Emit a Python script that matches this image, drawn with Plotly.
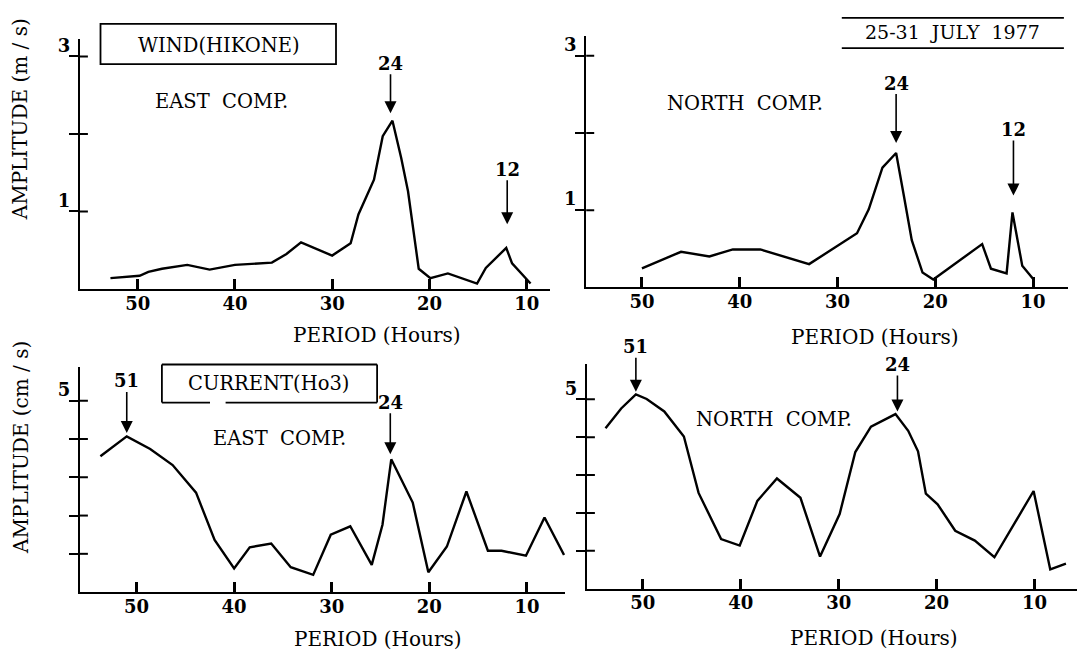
import plotly.graph_objects as go

# ---------------- data (period in hours, amplitude) ----------------
wind_east_period = [52.8, 49.8, 48.9, 47.5, 44.9, 42.6, 40.0, 36.2, 34.7, 33.2, 30.0, 28.1, 27.3,
                    25.7, 24.8, 23.8, 22.9, 22.2, 21.1, 19.9, 18.1, 15.1, 14.2, 12.1, 11.5, 9.6]
wind_east_amp = [0.14, 0.17, 0.22, 0.26, 0.31, 0.25, 0.31, 0.34, 0.45, 0.60, 0.43, 0.59, 0.96,
                 1.41, 1.97, 2.17, 1.69, 1.26, 0.26, 0.14, 0.20, 0.07, 0.27, 0.53, 0.33, 0.07]

wind_north_period = [50.0, 46.0, 43.1, 40.7, 37.9, 32.9, 28.0, 26.8, 25.4, 24.0, 23.2, 22.4,
                     21.3, 20.2, 15.2, 14.3, 12.7, 12.1, 11.1, 10.0]
wind_north_amp = [0.245, 0.46, 0.40, 0.49, 0.49, 0.30, 0.70, 1.01, 1.55, 1.74, 1.18, 0.61,
                  0.19, 0.10, 0.56, 0.24, 0.18, 0.97, 0.28, 0.11]

cur_east_period = [53.7, 51.0, 48.6, 47.6, 46.3, 43.9, 42.0, 40.0, 38.4, 36.2, 34.2, 31.9, 30.1,
                   28.1, 25.9, 24.8, 23.9, 21.7, 20.1, 18.2, 16.2, 14.0, 12.6, 10.1, 8.2, 6.2]
cur_east_amp = [3.55, 4.07, 3.74, 3.55, 3.32, 2.60, 1.36, 0.62, 1.17, 1.27, 0.65, 0.45, 1.50,
                1.72, 0.71, 1.76, 3.47, 2.34, 0.52, 1.19, 2.63, 1.08, 1.08, 0.95, 1.95, 0.97]

cur_north_period = [53.8, 52.2, 50.7, 49.6, 47.8, 45.8, 44.3, 42.0, 40.1, 38.3, 36.3, 33.9, 31.9,
                    29.9, 28.3, 26.7, 24.2, 22.9, 21.9, 21.1, 19.9, 18.1, 16.1, 14.1, 10.1, 8.4, 6.8]
cur_north_amp = [4.24, 4.76, 5.13, 5.01, 4.68, 4.02, 2.53, 1.31, 1.14, 2.32, 2.91, 2.40, 0.85,
                 1.97, 3.61, 4.28, 4.61, 4.17, 3.63, 2.51, 2.23, 1.53, 1.27, 0.83, 2.58, 0.51, 0.66]

period_ticks = [50, 40, 30, 20, 10]
wind_ticks = [1, 2, 3]
wind_ticktext = ["1", "", "3"]
cur_ticks = [1, 2, 3, 4, 5]
cur_ticktext = ["", "", "", "", "5"]

# peak markers: (panel, period, amplitude at arrow tip, label, arrow length px)
peaks = [
    (1, 24, 2.265, "24", -50),
    (1, 12, 0.833, "12", -55),
    (2, 24, 1.87, "24", -60),
    (2, 12, 1.19, "12", -66),
    (3, 51, 4.16, "51", -52),
    (3, 24, 3.60, "24", -52),
    (4, 50.7, 5.20, "51", -45),
    (4, 24, 4.68, "24", -47),
]

FONT = "DejaVu Serif"
W, H = 1077, 653

def px_x(p):
    return p / W

def px_y(p):
    return 1 - p / H

fig = go.Figure()

series = [
    (wind_east_period, wind_east_amp, "x", "y"),
    (wind_north_period, wind_north_amp, "x2", "y2"),
    (cur_east_period, cur_east_amp, "x3", "y3"),
    (cur_north_period, cur_north_amp, "x4", "y4"),
]
for xs, ys, xa, ya in series:
    fig.add_trace(go.Scatter(x=xs, y=ys, xaxis=xa, yaxis=ya, mode="lines",
                             line=dict(color="black", width=2.4), showlegend=False,
                             hoverinfo="skip"))

# panel geometry in pixels: (left, right), (top, bottom), x range, y range
panels = {
    1: dict(xd=(79.9, 550), yd=(35, 286.7), xr=[55.94, 7.6], yr=[0, 3.227],
            tv=wind_ticks, tt=wind_ticktext),
    2: dict(xd=(586.2, 1068), yd=(31.7, 285), xr=[55.7, 6.42], yr=[0, 3.264],
            tv=wind_ticks, tt=wind_ticktext),
    3: dict(xd=(79.9, 565), yd=(365, 591.7), xr=[55.8, 6.1], yr=[0, 5.89],
            tv=cur_ticks, tt=cur_ticktext),
    4: dict(xd=(586.9, 1077), yd=(362, 588.3), xr=[55.7, 5.67], yr=[0, 5.94],
            tv=cur_ticks, tt=cur_ticktext),
}

layout = {}
shapes = []
for i, p in panels.items():
    sx = "" if i == 1 else str(i)
    layout["xaxis" + sx] = dict(
        domain=[px_x(p["xd"][0]), min(1.0, px_x(p["xd"][1]))],
        range=p["xr"], anchor="y" + sx, showline=True, linecolor="black", linewidth=2,
        ticks="inside", ticklen=10, tickwidth=2.5, tickcolor="black",
        tickvals=period_ticks, ticktext=[str(t) for t in period_ticks],
        ticklabelstandoff=-3,
        showgrid=False, zeroline=False,
        tickfont=dict(family=FONT, size=18, color="black", weight="bold"),
    )
    layout["yaxis" + sx] = dict(
        domain=[px_y(p["yd"][1]), px_y(p["yd"][0])],
        range=p["yr"], anchor="x" + sx, showline=True, linecolor="black", linewidth=2,
        ticks="outside", ticklen=9, tickwidth=2, tickcolor="black",
        tickvals=p["tv"], ticktext=p["tt"], showgrid=False, zeroline=False,
        ticklabelshift=-11, ticklabelstandoff=-5,
        tickfont=dict(family=FONT, size=18, color="black", weight="bold"),
    )
    # inner half of the crossing y ticks
    width_px = p["xd"][1] - p["xd"][0]
    for tv in p["tv"]:
        shapes.append(dict(type="line", xref="x" + sx + " domain", yref="y" + sx,
                           x0=0, x1=8 / width_px, y0=tv, y1=tv, layer="above",
                           line=dict(color="black", width=2)))

annotations = []
for panel, per, amp, lab, ay in peaks:
    sx = "" if panel == 1 else str(panel)
    annotations.append(dict(
        x=per, y=amp, xref="x" + sx, yref="y" + sx, text=lab, showarrow=True,
        ax=0, ay=ay, arrowhead=2, arrowsize=1.5, arrowwidth=1.6, arrowcolor="black",
        font=dict(family=FONT, size=18, color="black", weight="bold"), borderpad=0,
    ))

def text_ann(txt, x, y, size=20, angle=0):
    annotations.append(dict(text=txt, x=px_x(x), y=px_y(y), xref="paper", yref="paper",
                            showarrow=False, xanchor="center", yanchor="middle",
                            textangle=angle, font=dict(family=FONT, size=size, color="black")))

text_ann("WIND(HIKONE)", 218.5, 41.5, 19.5)
text_ann("EAST&nbsp; COMP.", 221, 98.3, 19.5)
text_ann("25-31&nbsp; JULY&nbsp; 1977", 952, 28.3, 19)
text_ann("NORTH&nbsp; COMP.", 745.3, 100, 19.5)
text_ann("CURRENT(Ho3)", 268.6, 381.7, 19.5)
text_ann("EAST&nbsp; COMP.", 279.7, 436.7, 19.5)
text_ann("NORTH&nbsp; COMP.", 773.6, 418.3, 19.5)
text_ann("PERIOD (Hours)", 377, 333, 20)
text_ann("PERIOD (Hours)", 875, 335, 20)
text_ann("PERIOD (Hours)", 378, 639, 20)
text_ann("PERIOD (Hours)", 873.5, 638.3, 20)
text_ann("AMPLITUDE (m / s)", 20, 116, 20, -90)
text_ann("AMPLITUDE (cm / s)", 21.7, 446, 20, -90)

def seg(x0, y0, x1, y1, w=1.8):
    shapes.append(dict(type="line", xref="paper", yref="paper",
                       x0=px_x(x0), y0=px_y(y0), x1=px_x(x1), y1=px_y(y1),
                       line=dict(color="black", width=w)))

# WIND box
shapes.append(dict(type="rect", xref="paper", yref="paper",
                   x0=px_x(100.5), x1=px_x(336), y0=px_y(60.5), y1=px_y(20),
                   line=dict(color="black", width=1.8)))
# date rules
seg(841.8, 14, 1063.9, 14)
seg(841.8, 44.3, 1063.9, 44.3)
# CURRENT box (bottom edge has a small break)
seg(161.9, 362.7, 377.1, 362.7)
seg(161.9, 362.7, 161.9, 401)
seg(377.1, 362.7, 377.1, 401)
seg(161.9, 401, 210, 401)
seg(225.6, 401, 377.1, 401)

layout.update(
    width=W, height=H, margin=dict(l=0, r=0, t=0, b=0),
    paper_bgcolor="white", plot_bgcolor="white", showlegend=False,
    annotations=annotations, shapes=shapes,
    font=dict(family=FONT, color="black"),
)
fig.update_layout(**layout)
fig.write_html("out.html")
